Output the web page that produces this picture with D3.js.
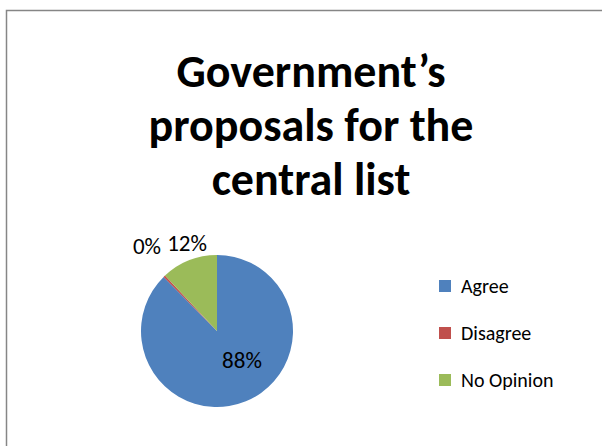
<!DOCTYPE html>
<html><head><meta charset="utf-8">
<script src="https://cdn.jsdelivr.net/npm/d3@7"></script>
<style>body{margin:0;background:#fff;}svg{display:block;}</style>
</head><body>
<svg id="c" width="602" height="446"></svg>
<script>
const categories = ["Agree", "Disagree", "No Opinion"];
const values = [87.6, 0.4, 12.0];
const labels = ["88%", "0%", "12%"];
const colors = ["#4F81BD", "#C0504D", "#9BBB59"];
const titleLines = ["Government\u2019s", "proposals for the", "central list"];

const svg = d3.select("#c");
svg.append("rect").attr("x", 6.5).attr("y", 10.5).attr("width", 620).attr("height", 460)
  .attr("fill", "#fff").attr("stroke", "#868686").attr("stroke-width", 1.5);

const font = "Carlito, Calibri, Lato, 'Open Sans', sans-serif";
svg.append("g").selectAll("text").data(titleLines).join("text")
  .attr("x", 311).attr("y", (d, i) => 87 + i * 54)
  .attr("text-anchor", "middle").attr("font-family", font)
  .attr("font-weight", "bold").attr("font-size", 46).attr("fill", "#000")
  .text(d => d);

const cx = 217, cy = 331, r = 76;
const pie = d3.pie().sort(null).value(d => d)(values);
const arc = d3.arc().innerRadius(0).outerRadius(r);
const g = svg.append("g").attr("transform", `translate(${cx},${cy})`);
g.selectAll("path").data(pie).join("path").attr("d", arc)
  .attr("fill", (d, i) => colors[i]);

const labelPos = [[25, 37], [-70, -77], [-30, -80]];
g.selectAll("text").data(pie).join("text")
  .attr("x", (d, i) => labelPos[i][0]).attr("y", (d, i) => labelPos[i][1])
  .attr("text-anchor", "middle").attr("font-family", font).attr("font-size", 23)
  .attr("fill", "#000").text((d, i) => labels[i]);

const leg = svg.append("g").selectAll("g").data(categories).join("g")
  .attr("transform", (d, i) => `translate(439,${280 + i * 47})`);
leg.append("rect").attr("width", 12).attr("height", 12).attr("fill", (d, i) => colors[i]);
leg.append("text").attr("x", 22).attr("y", 13).attr("font-family", font)
  .attr("font-size", 20).attr("fill", "#000").text(d => d);
</script>
</body></html>
